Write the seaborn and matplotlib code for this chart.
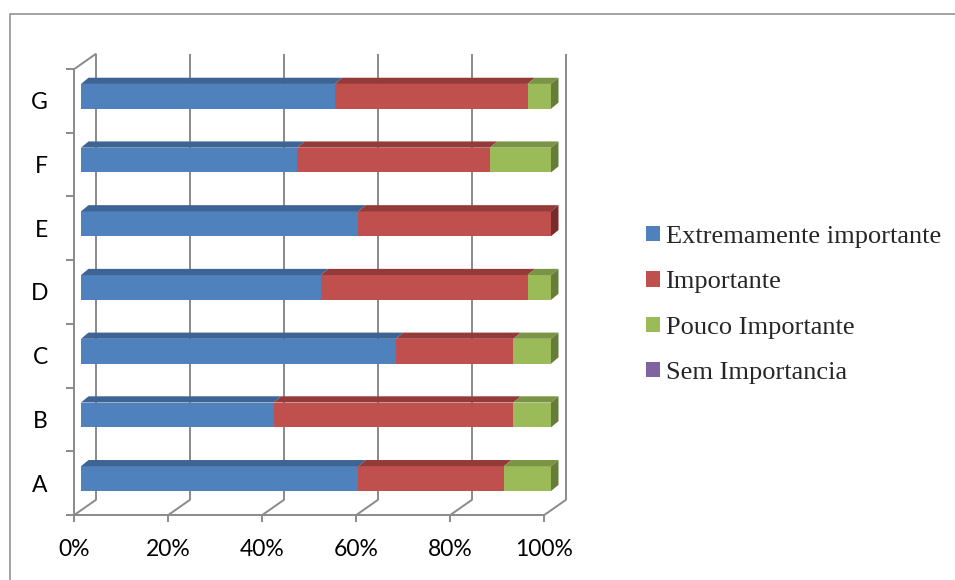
import numpy as np
import matplotlib
matplotlib.use("Agg")
import matplotlib.pyplot as plt
import seaborn as sns
from matplotlib.patches import Patch, Rectangle, Polygon
from matplotlib.transforms import ScaledTranslation

# ---------------- data ----------------
categories = ["A", "B", "C", "D", "E", "F", "G"]
extremamente = [59, 41, 67, 51, 59, 46, 54]
importante = [31, 51, 25, 44, 41, 41, 41]
pouco = [10, 8, 8, 5, 0, 13, 5]
sem = [0, 0, 0, 0, 0, 0, 0]
series_names = ["Extremamente importante", "Importante",
                "Pouco Importante", "Sem Importancia"]
x_ticks = [0, 20, 40, 60, 80, 100]
x_tick_labels = ["0%", "20%", "40%", "60%", "80%", "100%"]

# ---------------- style ----------------
front_colors = ["#4F81BD", "#C0504D", "#9BBB59", "#8064A2"]
top_colors = ["#3D6494", "#943B39", "#7A9446", "#65507F"]
side_colors = ["#30507A", "#772C2A", "#667D3A", "#4F3F66"]
gray = "#8A8A8A"
BAR_W = 0.39
OFF_F = np.array([6.7, 4.5])    # bar front plane offset (px) from axis plane
OFF_B = np.array([14.2, 10.7])  # bar back plane offset
OFF_W = np.array([21.4, 15.0])  # back wall offset

sns.set_theme(style="white")
plt.rcParams["font.family"] = ["Lato", "DejaVu Sans"]

fig = plt.figure(figsize=(9.55, 5.8), dpi=100)
AX_W, AX_H = 470.0, 446.0
ax = fig.add_axes([74.3 / 955, 65 / 580, AX_W / 955, AX_H / 580])

order = categories[::-1]  # G on top
values = np.array([extremamente, importante, pouco, sem], dtype=float)
cum = np.cumsum(values, axis=0)

# front faces: cumulative bars drawn from the longest to the shortest
for k in reversed(range(len(series_names))):
    vals = np.where(values[k] > 0, cum[k], np.nan)
    if np.all(np.isnan(vals)):
        continue
    sns.barplot(x=vals, y=categories, order=order, orient="h",
                color=front_colors[k], saturation=1, width=BAR_W,
                linewidth=0, errorbar=None, ax=ax, zorder=2)

ax.set_xlim(0, 100)
ax.set_ylim(len(order) - 0.5, -0.5)

off_front = ScaledTranslation(OFF_F[0] / 100, OFF_F[1] / 100, fig.dpi_scale_trans)
for p in ax.patches:
    p.set_transform(ax.transData + off_front)
    p.set_clip_on(False)


def afrac(x, y, off):
    a = ax.transLimits.transform((x, y))
    return (a[0] + off[0] / AX_W, a[1] + off[1] / AX_H)


# top and side faces
for i, cat in enumerate(categories):
    pos = order.index(cat)
    ytop = pos - BAR_W / 2
    ybot = pos + BAR_W / 2
    last = None
    for k in range(len(series_names)):
        if values[k, i] <= 0:
            continue
        l, r = cum[k, i] - values[k, i], cum[k, i]
        pts = [afrac(l, ytop, OFF_F), afrac(r, ytop, OFF_F),
               afrac(r, ytop, OFF_B), afrac(l, ytop, OFF_B)]
        ax.add_patch(Polygon(pts, closed=True, transform=ax.transAxes,
                             facecolor=top_colors[k], lw=0, clip_on=False, zorder=2))
        last = k
    r = cum[last, i]
    pts = [afrac(r, ytop, OFF_F), afrac(r, ybot, OFF_F),
           afrac(r, ybot, OFF_B), afrac(r, ytop, OFF_B)]
    ax.add_patch(Polygon(pts, closed=True, transform=ax.transAxes,
                         facecolor=side_colors[last], lw=0, clip_on=False, zorder=2))

# walls
LW = 1.4
ybottom, ytopax = len(order) - 0.5, -0.5
for xt in x_ticks:
    p0 = afrac(xt, ybottom, OFF_W)
    p1 = afrac(xt, ytopax, OFF_W)
    ax.plot([p0[0], p1[0]], [p0[1], p1[1]], transform=ax.transAxes,
            color=gray, lw=LW, clip_on=False, zorder=0.5, solid_capstyle="butt")
    f0 = afrac(xt, ybottom, (0, 0))
    ax.plot([f0[0], p0[0]], [f0[1], p0[1]], transform=ax.transAxes,
            color=gray, lw=LW, clip_on=False, zorder=0.5)
t0 = afrac(0, ytopax, (0, 0))
t1 = afrac(0, ytopax, OFF_W)
ax.plot([t0[0], t1[0]], [t0[1], t1[1]], transform=ax.transAxes,
        color=gray, lw=LW, clip_on=False, zorder=0.5)

for s in ["top", "right"]:
    ax.spines[s].set_visible(False)
for s in ["left", "bottom"]:
    ax.spines[s].set_color(gray)
    ax.spines[s].set_linewidth(LW)

ax.set_xticks(x_ticks, x_tick_labels)
ax.set_yticks(range(len(order)), order)
ax.set_yticks(np.arange(-0.5, len(order), 1), minor=True)
ax.tick_params(axis="x", bottom=True, length=5, width=LW, color=gray,
               direction="out", pad=12, labelsize=16.5, labelcolor="black")
ax.tick_params(axis="y", which="major", left=True, length=0, pad=19,
               labelsize=16.5, labelcolor="black")
ax.tick_params(axis="y", which="minor", left=True, length=6, width=LW,
               color=gray, direction="out")
ax.set_xlabel("")
ax.set_ylabel("")
ax.patch.set_alpha(0)

# outer chart border
fig.add_artist(Rectangle((10 / 955, -0.2), 2, (580 - 14) / 580 + 0.2,
                         transform=fig.transFigure, fill=False,
                         edgecolor=gray, lw=1.1))

handles = [Patch(facecolor=c, edgecolor="none") for c in front_colors]
fig.legend(handles, series_names, loc="upper left",
           bbox_to_anchor=(646 / 955, 1 - 226 / 580), frameon=False,
           prop={"family": "Liberation Serif", "size": 19},
           handlelength=0.52, handleheight=0.52, handletextpad=0.22,
           labelspacing=0.88, borderpad=0, borderaxespad=0)

fig.savefig("out.png", dpi=100)
